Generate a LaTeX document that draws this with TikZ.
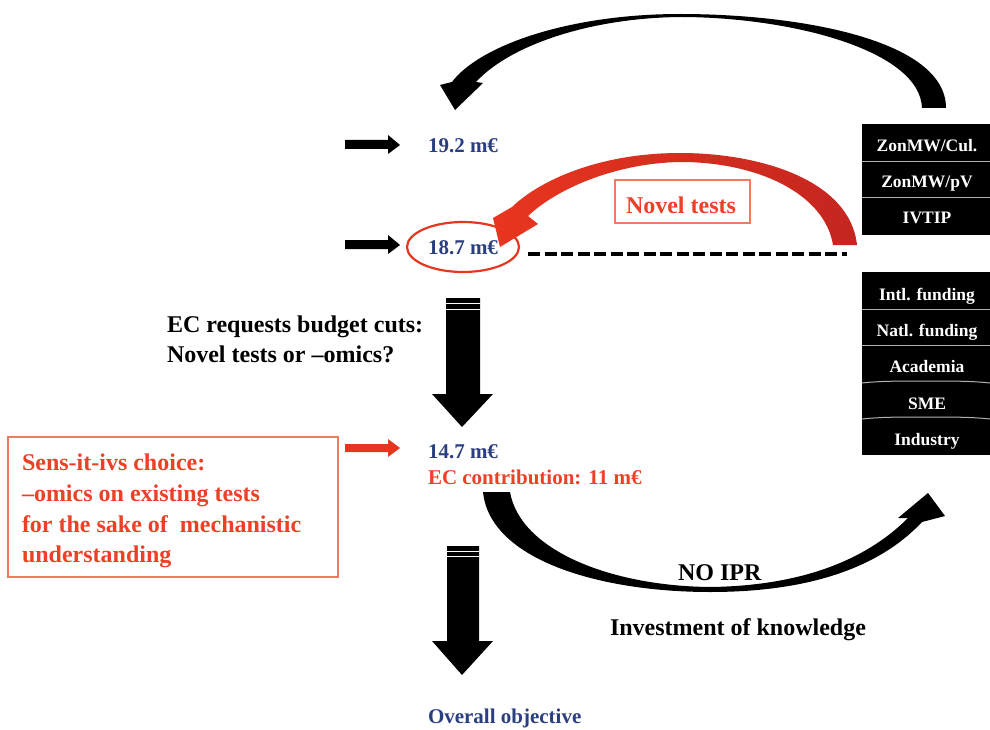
\documentclass[tikz,border=0pt]{standalone}
\usepackage{fontspec}
\setmainfont{Liberation Serif}
\definecolor{navy}{HTML}{2B3F80}
\definecolor{redtxt}{HTML}{EE4026}
\definecolor{redbox}{HTML}{F27A5E}
\definecolor{redarrow}{HTML}{E8351F}
\definecolor{reddark}{HTML}{C42620}
\definecolor{sepgray}{HTML}{B0B0B0}
\begin{document}
\begin{tikzpicture}[x=1pt,y=-1pt,
  every node/.style={inner sep=0pt, outer sep=0pt},
  txt/.style={anchor=base west, font=\fontsize{24}{29}\selectfont\bfseries},
  money/.style={anchor=base west, font=\fontsize{21}{25}\selectfont\bfseries, text=navy},
  redline/.style={anchor=base west, font=\fontsize{24}{29}\selectfont\bfseries, text=redtxt},
  celltext/.style={anchor=base, font=\fontsize{17.5}{21}\selectfont\bfseries, text=white},
  sep/.style={draw=sepgray, line width=1pt},
  blockarrow/.style={fill=black}
]
\useasboundingbox (0,0) rectangle (990,730);

% ---------- right column cells ----------
\fill[black] (862,124) rectangle (990,235);
\draw[sep] (862,162) -- (990,162);
\draw[sep] (862,198) -- (990,198);
\node[celltext] (c1) at (927,152) {ZonMW/Cul.};
\node[celltext] (c2) at (927,188) {ZonMW/pV};
\node[celltext] (c3) at (927,223) {IVTIP};

\fill[black] (862,272) rectangle (990,455);
\draw[sep] (862,309) -- (990,309);
\draw[sep] (862,345) -- (990,345);
\draw[sep] (862,383) .. controls (880,381) and (900,381) .. (926,381) .. controls (952,381) and (972,381) .. (990,383);
\draw[sep] (862,419) .. controls (880,417) and (900,417) .. (926,417) .. controls (952,417) and (972,417) .. (990,419);
\node[celltext] (c4) at (927,300) {Intl. funding};
\node[celltext] (c5) at (927,336) {Natl. funding};
\node[celltext] (c6) at (927,372) {Academia};
\node[celltext] (c7) at (927,409) {SME};
\node[celltext] (c8) at (927,445) {Industry};

% ---------- top black curved arrow ----------
\fill[black] (946,108) .. controls (946,40) and (800,14) .. (680,14)
  .. controls (570,14) and (480,45) .. (452,82) -- (440,85) -- (455,110) -- (483,83) -- (476,82)
  .. controls (510,45) and (590,18) .. (680,17)
  .. controls (790,17) and (920,50) .. (922,108) -- cycle;

% ---------- money values ----------
\node[money] (m192) at (428,153) {19.2 m€};
\node[money] (m187) at (428,254) {18.7 m€};
\draw[redarrow, line width=2.2pt] (463,247) ellipse [x radius=56, y radius=25];
\node[money] (m147) at (428,458) {14.7 m€};
\node[redline] (ecc) at (428,484) {\fontsize{21}{25}\selectfont EC contribution: 11 m€};

% small input arrows
\fill[black] (345,140) -- (388,140) -- (388,135) -- (400,145) -- (388,154) -- (388,149) -- (345,149) -- cycle;
\fill[black] (345,240) -- (388,240) -- (388,235) -- (400,245) -- (388,254) -- (388,249) -- (345,249) -- cycle;
\fill[redarrow] (345,444) -- (388,444) -- (388,439) -- (400,448) -- (388,457) -- (388,452) -- (345,452) -- cycle;

% ---------- dashed line ----------
\draw[black, line width=4.5pt, dash pattern=on 12pt off 4.5pt] (528,254) -- (847,254);

% ---------- red curved arrow ----------
\shade[left color=redarrow, right color=reddark]
  (857,245) .. controls (850,180) and (760,153) .. (680,153)
  .. controls (600,153) and (540,180) .. (512,207) -- (493,218) -- (500,247) -- (538,224) -- (528,216)
  .. controls (560,186) and (620,163) .. (680,162)
  .. controls (760,162) and (825,195) .. (833,245) -- cycle;

% Novel tests box
\draw[redbox, line width=1.6pt] (615,180) rectangle (750,223);
\node[redline] (novel) at (626,213) {Novel tests};

% ---------- EC requests text ----------
\node[txt] (ec1) at (167,332) {EC requests budget cuts:};
\node[txt] (ec2) at (167,362) {Novel tests or \textendash omics?};

% big down arrow 1
\fill[black] (446,298) -- (480,298) -- (480,394) -- (493,394) -- (462,427) -- (432,394) -- (446,394) -- cycle;
\draw[white, line width=0.8pt] (446,303) -- (480,303);
\draw[white, line width=0.8pt] (446,309) -- (480,309);

% ---------- left red box ----------
\draw[redbox, line width=1.6pt] (8,437) rectangle (338,577);
\node[redline] (l1) at (22,470) {Sens-it-ivs choice:};
\node[redline] (l2) at (22,501) {\textendash omics on existing tests};
\node[redline] (l3) at (22,532) {for the sake of \ mechanistic};
\node[redline] (l4) at (22,562) {understanding};

% ---------- bottom curved arrow ----------
\fill[black] (483,492) .. controls (490,560) and (600,592) .. (710,592)
  .. controls (800,592) and (875,572) .. (922,522) -- (945,516) -- (928,493) -- (898,518) -- (908,518)
  .. controls (860,566) and (790,586) .. (710,587)
  .. controls (610,586) and (520,550) .. (510,492) -- cycle;
\node[txt] (noipr) at (678,580) {NO IPR};
\node[txt] (invest) at (610,635) {Investment of knowledge};

% big down arrow 2
\fill[black] (447,546) -- (479,546) -- (479,641) -- (493,641) -- (462,675) -- (432,641) -- (447,641) -- cycle;
\draw[white, line width=0.8pt] (447,551) -- (479,551);
\draw[white, line width=0.8pt] (447,556) -- (479,556);

\node[money] (overall) at (428,723) {Overall objective};
\end{tikzpicture}
\end{document}
